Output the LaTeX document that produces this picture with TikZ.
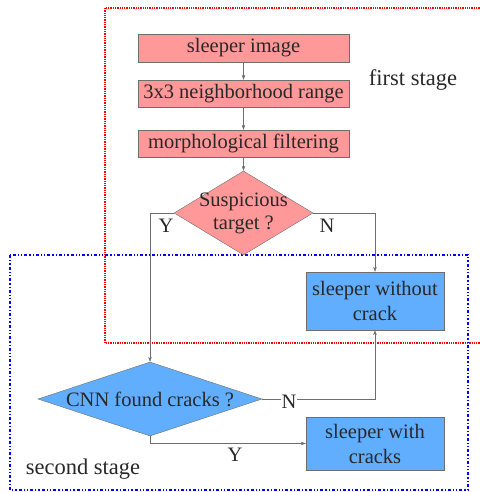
\documentclass[tikz,border=0pt]{standalone}
\usepackage{fontspec}
\setmainfont{Liberation Serif}
\usepackage{xcolor}
\usepackage{tikz}
\usetikzlibrary{arrows.meta,shapes.geometric}

\definecolor{stagepink}{RGB}{255,153,153}
\definecolor{stageblue}{RGB}{97,174,255}
\definecolor{linegray}{RGB}{110,110,110}
\definecolor{textgray}{RGB}{40,40,40}

\begin{document}
\begin{tikzpicture}[x=1pt,y=-1pt,
  every node/.style={text=textgray,font=\fontsize{20.5}{25}\selectfont},
  pinkbox/.style={draw=linegray,fill=stagepink,minimum width=211pt,inner sep=0pt},
  bluebox/.style={draw=linegray,fill=stageblue,minimum width=138pt,align=center,inner sep=0pt},
  decide/.style={diamond,draw=linegray,inner sep=0pt},
  arr/.style={draw=linegray,-{Stealth[length=5pt,width=3.5pt]}},
  tag/.style={inner sep=1pt},
  stagelabel/.style={font=\fontsize{22.5}{26}\selectfont}]
\useasboundingbox (0,0) rectangle (479,492);

% Stage frames
\draw[red,line width=1.3pt,densely dotted] (105,8) rectangle (484,343);
\draw[blue,line width=1.3pt,dash dot dot] (10,255) rectangle (468,490);
\node[stagelabel] (first) at (413,80) {first stage};
\node[stagelabel] (second) at (83,469) {second stage};

% First stage
\node[pinkbox,minimum height=28pt] (img) at (243.5,48) {sleeper image};
\node[pinkbox,minimum height=27pt] (nbr) at (243.5,93.5) {3x3 neighborhood range};
\node[pinkbox,minimum height=27pt] (morph) at (243.5,143.5) {morphological filtering};
\node[decide,fill=stagepink,minimum width=139pt,minimum height=84pt] (susp) at (243.5,213) {};
\node[align=center,font=\fontsize{20.5}{23}\selectfont] (susptext) at (susp) {Suspicious\\target ?};

\draw[arr] (img) -- (nbr);
\draw[arr] (nbr) -- (morph);
\draw[arr] (morph) -- (susp);

% Results
\node[bluebox,minimum height=58pt] (nocrack) at (375,301) {sleeper without\\crack};
\node[bluebox,minimum height=53pt] (crack) at (375,443.5) {sleeper with\\cracks};

% Second stage
\node[decide,fill=stageblue,minimum width=224pt,minimum height=74pt] (cnn) at (150,399) {};
\node (cnntext) at (cnn) {CNN found cracks ?};

\draw[arr] (susp.west) -| (cnn.north);
\draw[arr] (susp.east) -| (nocrack.north);
\draw[arr] (cnn.east) -| (nocrack.south);
\draw[arr] (cnn.south) |- (crack.west);

\node[tag] (y1) at (166,226) {Y};
\node[tag] (n1) at (327,226) {N};
\node[tag,fill=white] (n2) at (289,402) {N};
\node[tag] (y2) at (235,455) {Y};

\end{tikzpicture}
\end{document}
